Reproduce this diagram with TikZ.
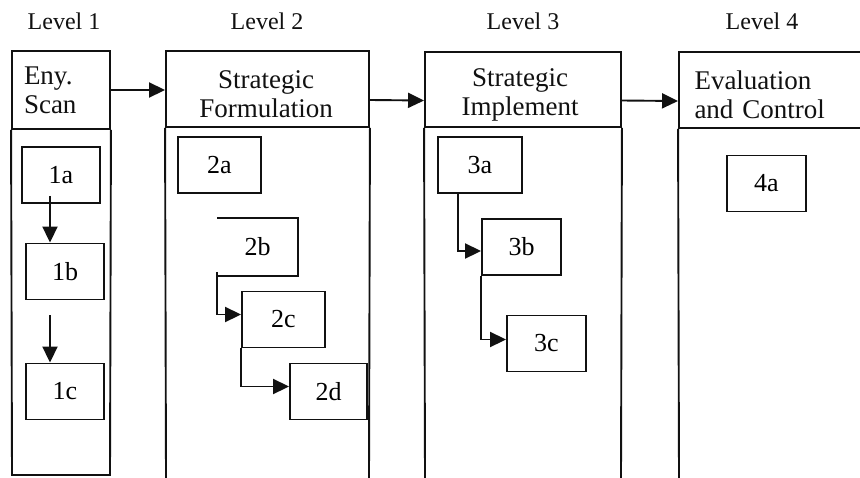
\documentclass[tikz,border=0pt]{standalone}
\usepackage{fontspec}
\setmainfont{Liberation Serif}
\usepackage{xcolor}
\usepackage{tikz}
\usetikzlibrary{arrows.meta}
\definecolor{ink}{HTML}{111111}
\definecolor{paper}{HTML}{FFFFFF}
\tikzset{
  frame/.style={draw=ink, line width=1.9pt},
  hdr/.style={frame, inner sep=0pt},
  htxt/.style={inner sep=0pt, text=ink, font=\fontsize{27}{29}\selectfont},
  sub/.style={frame, inner sep=0pt, minimum height=56pt, font=\fontsize{26}{29}\selectfont},
  lvl/.style={text=ink, font=\fontsize{24}{28}\selectfont},
  arr/.style={draw=ink, line width=1.9pt, -{Triangle[length=16pt,width=15pt]}}
}
\begin{document}
\begin{tikzpicture}[x=1pt,y=-1pt]
  \useasboundingbox[fill=paper] (0,0) rectangle (860,477);

  % level titles
  \node[lvl] (lvl1) at (64,21) {Level 1};
  \node[lvl] (lvl2) at (267,21) {Level 2};
  \node[lvl] (lvl3) at (523,21) {Level 3};
  \node[lvl] (lvl4) at (762,21) {Level 4};

  % column heads
  \node[hdr, minimum width=98pt, minimum height=78pt] (envscan) at (61,90) {};
  \node[hdr, minimum width=203pt, minimum height=76pt] (stratform) at (267.5,89) {};
  \node[hdr, minimum width=196pt, minimum height=75pt] (stratimp) at (523,89.5) {};
  \node[hdr, minimum width=191pt, minimum height=76pt] (evalctl) at (774.5,90) {};
  \node[htxt, text width=74pt, align=left] (envscantxt) at (61,90) {Eny.\\Scan};
  \node[htxt, align=center] (stratformtxt) at (266,94) {Strategic\\Formulation};
  \node[htxt, align=center] (stratimptxt) at (520,95) {Strategic\\Implement};
  \node[htxt, text width=160pt, align=left] (evalctltxt) at (774.5,95) {Evaluation\\and Control};

  % column bodies
  \draw[frame] (envscan.south west) -- (12,475) -- (110,475) -- (envscan.south east);
  \draw[frame] (stratform.south west) -- (166,478);
  \draw[frame] (stratform.south east) -- (369,478);
  \draw[frame] (stratimp.south west) -- (425,478);
  \draw[frame] (stratimp.south east) -- (621,478);
  \draw[frame] (evalctl.south west) -- (679,478);

  \draw[arr] (envscan.east) -- (envscan.east -| stratform.west);
  \draw[arr] ([yshift=-11pt]stratform.east) -- ([yshift=-11pt]stratimp.west);
  \draw[arr] ([yshift=-11pt]stratimp.east) -- ([yshift=-11pt]evalctl.west);

  % level 1
  \node[sub, minimum width=78pt] (b1a) at (61,175) {1a};
  \node[sub, minimum width=78pt] (b1b) at (65,271.5) {1b};
  \node[sub, minimum width=78pt] (b1c) at (65,391.5) {1c};
  \draw[arr] ([xshift=-11pt,yshift=8pt]b1a.south) -- ([xshift=-15pt]b1b.north);
  \draw[arr] ([xshift=-15pt,yshift=-15pt]b1b.south) -- ([xshift=-15pt]b1c.north);

  % level 2
  \node[sub, minimum width=83pt] (b2a) at (219.5,165) {2a};
  \node[sub, draw=none, minimum width=79pt] (b2b) at (257.5,247) {2b};
  \draw[frame] (b2b.north west) -- (b2b.north east) -- (b2b.south east) -- (b2b.south west);
  \node[sub, minimum width=83pt] (b2c) at (283.5,319.5) {2c};
  \node[sub, minimum width=77pt] (b2d) at (328.5,391.5) {2d};
  \draw[arr] ([yshift=4pt]b2b.south west) |- ([yshift=5pt]b2c.west);
  \draw[arr] (b2c.south west) |- ([yshift=5pt]b2d.west);

  % level 3
  \node[sub, minimum width=84pt] (b3a) at (480,165) {3a};
  \node[sub, minimum width=79pt] (b3b) at (521.5,247) {3b};
  \node[sub, minimum width=79pt] (b3c) at (546.5,343.5) {3c};
  \draw[arr] ([xshift=-22pt]b3a.south) |- ([yshift=-4pt]b3b.west);
  \draw[arr] (b3b.south west) |- ([yshift=4pt]b3c.west);

  % level 4
  \node[sub, minimum width=79pt] (b4a) at (766.5,183.5) {4a};
\end{tikzpicture}
\end{document}
